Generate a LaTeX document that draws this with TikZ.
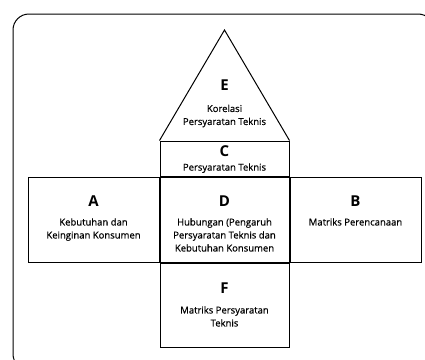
\documentclass[tikz,border=0pt]{standalone}
\usepackage{fontspec}
\setmainfont{Open Sans}
\newfontfamily\descfont{Open Sans}[FakeBold=0.5]
\usetikzlibrary{positioning, calc}

\begin{document}
\begin{tikzpicture} [x=1pt, y=-1pt,
	box/.style={draw, line width=1pt, inner sep=0pt, minimum width=129pt, minimum height=85pt},
	letter/.style={inner sep=0pt, font=\fontsize{15}{17}\selectfont\bfseries},
	desc/.style={inner sep=0pt, align=center, font=\descfont\fontsize{9.5}{13}\selectfont}]
	%    house of quality
	
	\useasboundingbox (0,0) rectangle (425,359);
	\clip (0,0) rectangle (425,359);
	\draw[line width=1pt, rounded corners=16pt] (13,14) rectangle (434,370);
	
	\node[box] (D) at (224.5,219.5) {};
	\node[box, minimum width=131pt, left=0pt of D] (A) {};
	\node[box, minimum width=131pt, right=0pt of D] (B) {};
	\node[box, minimum height=35pt, above=0pt of D] (C) {};
	\node[box, minimum height=84pt, below=0pt of D] (F) {};
	\coordinate (top) at (224.5,30);
	\draw[line width=1pt] (C.north west) -- (top) -- (C.north east);
	
	% labels
	\node[letter] (lE) at (224.5,85) {E};
	\node[desc, below=14pt of lE] (tE) {Korelasi\\Persyaratan Teknis};
	\node[letter] (lC) at ($(C.north)+(0,11)$) {C};
	\node[desc, below=6pt of lC] (tC) {Persyaratan Teknis};
	\node[letter] (lA) at ($(A.north)+(0,25)$) {A};
	\node[desc, below=11pt of lA] (tA) {Kebutuhan dan\\Keinginan Konsumen};
	\node[letter] (lD) at ($(D.north)+(0,25)$) {D};
	\node[desc, below=11pt of lD] (tD) {Hubungan (Pengaruh\\Persyaratan Teknis dan\\Kebutuhan Konsumen};
	\node[letter] (lB) at ($(B.north)+(0,25)$) {B};
	\node[desc, below=11pt of lB] (tB) {Matriks Perencanaan};
	\node[letter] (lF) at ($(F.north)+(0,26)$) {F};
	\node[desc, below=12pt of lF] (tF) {Matriks Persyaratan\\Teknis};
	
\end{tikzpicture}
\end{document}
